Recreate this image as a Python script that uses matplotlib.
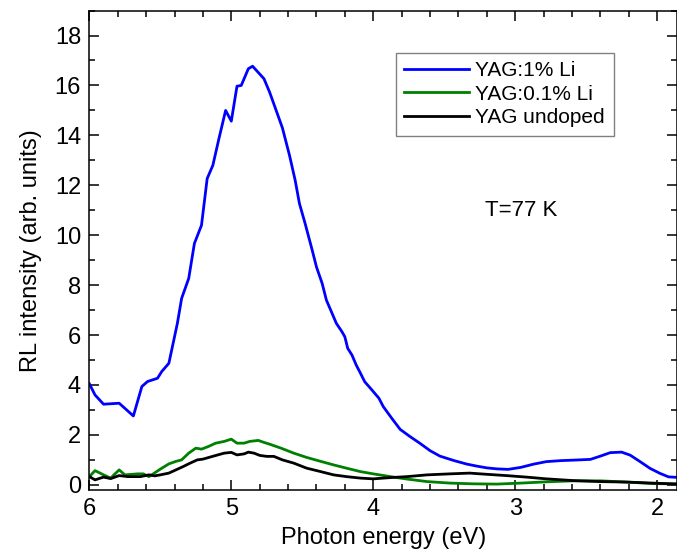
import matplotlib
matplotlib.use("Agg")
import matplotlib.pyplot as plt
from matplotlib.ticker import MultipleLocator

plt.rcParams['font.family'] = ['Liberation Sans', 'DejaVu Sans']

# photon energy (eV) and RL intensity for each sample
e_1li = [6.00, 5.96, 5.90, 5.79, 5.69, 5.63, 5.59, 5.52, 5.49, 5.44, 5.42, 5.38, 5.35, 5.30,
         5.26, 5.21, 5.17, 5.13, 5.09, 5.04, 5.00, 4.96, 4.93, 4.88, 4.85, 4.77, 4.73, 4.64,
         4.59, 4.55, 4.52, 4.48, 4.43, 4.40, 4.36, 4.33, 4.29, 4.26, 4.22, 4.20, 4.18, 4.15,
         4.12, 4.09, 4.06, 4.02, 3.99, 3.96, 3.93, 3.87, 3.81, 3.74, 3.67, 3.60, 3.53, 3.43,
         3.34, 3.27, 3.20, 3.13, 3.05, 2.96, 2.87, 2.78, 2.68, 2.59, 2.47, 2.40, 2.33, 2.25,
         2.19, 2.12, 2.05, 1.98, 1.92, 1.86]
i_1li = [4.05, 3.60, 3.23, 3.27, 2.76, 3.94, 4.14, 4.27, 4.54, 4.87, 5.40, 6.47, 7.47, 8.27,
         9.67, 10.4, 12.27, 12.8, 13.8, 15.0, 14.57, 15.97, 16.0, 16.67, 16.77, 16.27, 15.73, 14.3,
         13.2, 12.2, 11.27, 10.47, 9.4, 8.73, 8.07, 7.4, 6.87, 6.47, 6.13, 5.93, 5.47, 5.2,
         4.8, 4.47, 4.13, 3.87, 3.67, 3.47, 3.14, 2.67, 2.22, 1.93, 1.66, 1.37, 1.15, 0.97,
         0.83, 0.75, 0.68, 0.64, 0.62, 0.70, 0.83, 0.93, 0.97, 0.99, 1.02, 1.15, 1.29, 1.31,
         1.19, 0.93, 0.66, 0.46, 0.32, 0.30]

e_01li = [6.00, 5.96, 5.90, 5.85, 5.79, 5.75, 5.66, 5.62, 5.58, 5.55, 5.50, 5.44, 5.39, 5.35,
          5.30, 5.25, 5.21, 5.16, 5.11, 5.05, 5.00, 4.96, 4.91, 4.87, 4.81, 4.77, 4.73, 4.65,
          4.56, 4.47, 4.37, 4.28, 4.19, 4.09, 4.00, 3.88, 3.76, 3.62, 3.46, 3.29, 3.13, 2.96,
          2.78, 2.59, 2.40, 2.21, 2.03, 1.86]
i_01li = [0.33, 0.57, 0.40, 0.27, 0.60, 0.40, 0.44, 0.44, 0.33, 0.44, 0.63, 0.84, 0.94, 1.00,
          1.27, 1.47, 1.43, 1.54, 1.67, 1.74, 1.83, 1.67, 1.67, 1.74, 1.78, 1.70, 1.63, 1.47,
          1.27, 1.10, 0.94, 0.80, 0.67, 0.53, 0.44, 0.33, 0.23, 0.13, 0.07, 0.04, 0.03, 0.07,
          0.12, 0.16, 0.16, 0.11, 0.05, 0.04]

e_undoped = [6.00, 5.96, 5.90, 5.85, 5.79, 5.73, 5.64, 5.58, 5.54, 5.50, 5.44, 5.39, 5.34, 5.29,
             5.24, 5.20, 5.12, 5.05, 5.00, 4.96, 4.91, 4.88, 4.84, 4.80, 4.75, 4.70, 4.64, 4.56,
             4.47, 4.37, 4.28, 4.19, 4.09, 4.00, 3.88, 3.76, 3.62, 3.46, 3.32, 3.22, 3.06, 2.92,
             2.78, 2.59, 2.40, 2.21, 2.03, 1.86]
i_undoped = [0.33, 0.20, 0.31, 0.25, 0.37, 0.33, 0.33, 0.40, 0.36, 0.40, 0.47, 0.60, 0.73, 0.87,
             1.00, 1.03, 1.16, 1.27, 1.30, 1.20, 1.24, 1.31, 1.27, 1.18, 1.14, 1.14, 1.00, 0.87,
             0.67, 0.53, 0.40, 0.33, 0.27, 0.24, 0.29, 0.33, 0.40, 0.44, 0.47, 0.43, 0.37, 0.31,
             0.24, 0.17, 0.13, 0.11, 0.07, 0.03]

labels = ['YAG:1% Li', 'YAG:0.1% Li', 'YAG undoped']

fig = plt.figure(figsize=(6.77, 5.56), dpi=100)
ax = fig.add_axes([0.132, 0.119, 0.868, 0.862])

ax.plot(e_1li, i_1li, color='#0000ff', lw=2.0, label=labels[0])
ax.plot(e_01li, i_01li, color='#008000', lw=2.0, label=labels[1])
ax.plot(e_undoped, i_undoped, color='black', lw=2.0, label=labels[2])

ax.set_xlim(6, 1.86)
ax.set_ylim(-0.2, 19)
ax.xaxis.set_major_locator(MultipleLocator(1))
ax.xaxis.set_minor_locator(MultipleLocator(0.2))
ax.yaxis.set_major_locator(MultipleLocator(2))
ax.yaxis.set_minor_locator(MultipleLocator(1))
ax.tick_params(which='both', direction='in', top=True, right=True, labelsize=17, width=1.1)
ax.tick_params(which='major', length=7)
ax.tick_params(which='minor', length=4)
ax.tick_params(axis='x', pad=6)
ax.tick_params(axis='y', pad=6)
for s in ax.spines.values():
    s.set_linewidth(1.1)

ax.set_xlabel('Photon energy (eV)', fontsize=17, labelpad=5)
ax.set_ylabel('RL intensity (arb. units)', fontsize=17, labelpad=9)

ax.text(3.21, 11.0, 'T=77 K', fontsize=16, va='center', ha='left')

leg = ax.legend(loc='upper right', bbox_to_anchor=(0.892, 0.912), borderaxespad=0,
                fontsize=15, fancybox=False, framealpha=1, edgecolor='#808080',
                handlelength=3.1, handletextpad=0.3, labelspacing=0.2, borderpad=0.42)
leg.get_frame().set_linewidth(1.0)

fig.savefig('out.png', dpi=100)
